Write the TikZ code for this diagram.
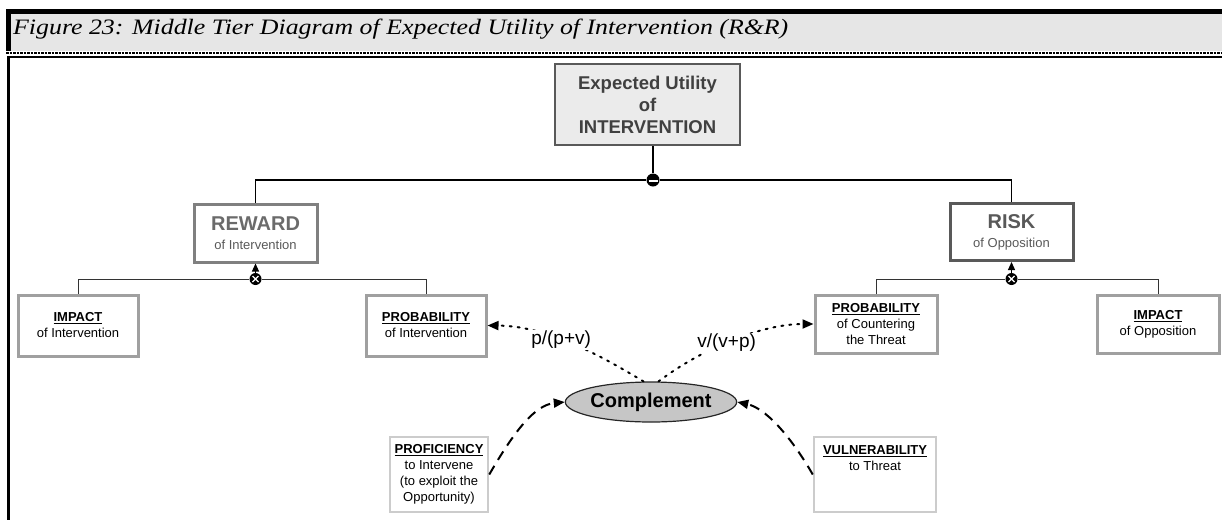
\documentclass[tikz,border=0pt]{standalone}
\usepackage{graphicx}
\usepackage{fontspec}
\setmainfont{Liberation Sans}
\newfontfamily\capfont{Liberation Serif}
\usetikzlibrary{arrows.meta,shapes.geometric}

\definecolor{bandgray}{HTML}{E6E6E6}
\definecolor{topfill}{HTML}{EBEBEB}
\definecolor{darkedge}{HTML}{595959}
\definecolor{midedge}{HTML}{808080}
\definecolor{lightedge}{HTML}{A0A0A0}
\definecolor{paleedge}{HTML}{CCCCCC}
\definecolor{toptext}{HTML}{404040}
\definecolor{rewtext}{HTML}{6B6B6B}
\definecolor{subtext}{HTML}{595959}
\definecolor{compfill}{HTML}{C6C6C6}

% text helpers
\newcommand\bxtitle[1]{{\fontsize{20}{22}\selectfont\bfseries #1}}
\newcommand\bxhead[1]{\underline{\textbf{#1}}}

\begin{document}
\begin{tikzpicture}[x=1pt,y=-1pt,
  box/.style={draw, rectangle, inner sep=0pt, align=center, fill=white,
    font=\fontsize{13}{16}\selectfont},
  factor/.style={box, draw=lightedge, line width=3pt},
  input/.style={box, draw=paleedge, line width=2.5pt},
  mainlink/.style={line width=1.8pt, black},
  sublink/.style={line width=1pt, black!80},
  junction/.style={circle, fill=black, inner sep=0pt, minimum size=13pt},
  dotarrow/.style={line width=2pt, dash pattern=on 2pt off 6pt, line cap=round,
    -{Triangle[length=11pt,width=9pt]}},
  dasharrow/.style={line width=2pt, dash pattern=on 10pt off 7pt,
    -{Triangle[length=11pt,width=9pt]}},
  ratio/.style={font=\fontsize{19}{22}\selectfont, fill=white, inner sep=1pt}
]
\useasboundingbox (0,0) rectangle (1222,520);

% ---- caption band and frame ----
\fill[bandgray] (11,14) rectangle (1222,51);
\fill[black] (6,9) rectangle (1222,14);
\fill[black] (6,9) rectangle (11,51);
\draw[line width=2pt, dash pattern=on 2.5pt off 1pt] (6,53) -- (1222,53);
\draw[line width=2pt] (8,57) -- (1222,57);
\draw[line width=3pt] (8.5,56) -- (8.5,520);
\node[anchor=base west, inner sep=0pt] (caption) at (13,34)
  {\resizebox{775pt}{\height}{\capfont\itshape\fontsize{22}{24}\selectfont
   Figure 23: Middle Tier Diagram of Expected Utility of Intervention (R\&R)}};

% ---- top node ----
\node[box, fill=topfill, draw=darkedge, line width=2.5pt,
  minimum width=185pt, minimum height=81pt, text=toptext,
  font=\fontsize{18.5}{22}\selectfont\bfseries] (eu) at (647.5,104.5)
  {Expected Utility\\of\\INTERVENTION};

% ---- second tier ----
\node[box, draw=midedge, line width=3pt, minimum width=123pt, minimum height=58pt]
  (reward) at (255.5,233)
  {\textcolor{rewtext}{\bxtitle{REWARD}}\\[3pt]\textcolor{subtext}{of Intervention}};
\node[box, draw=darkedge, line width=3pt, minimum width=123pt, minimum height=57pt]
  (risk) at (1011.5,232)
  {\textcolor{subtext}{\bxtitle{RISK}}\\[3pt]\textcolor{subtext}{of Opposition}};

% ---- third tier ----
\node[factor, minimum width=120pt, minimum height=61pt] (impi) at (78,325.5)
  {\bxhead{IMPACT}\\of Intervention};
\node[factor, minimum width=120pt, minimum height=61pt] (probi) at (426,325.5)
  {\bxhead{PROBABILITY}\\of Intervention};
\node[factor, minimum width=122pt, minimum height=58pt] (probc) at (876,324)
  {\bxhead{PROBABILITY}\\of Countering\\the Threat};
\node[factor, minimum width=122pt, minimum height=58pt] (impo) at (1158,324)
  {\bxhead{IMPACT}\\of Opposition};

% ---- inputs ----
\node[input, minimum width=98pt, minimum height=75pt] (prof) at (439,474.5)
  {\bxhead{PROFICIENCY}\\to Intervene\\(to exploit the\\Opportunity)};
\node[input, minimum width=122pt, minimum height=75pt] (vuln) at (875,474.5)
  {\bxhead{VULNERABILITY}\\to Threat\\[16pt]};

% ---- complement ----
\node[ellipse, draw=black!85, line width=1.2pt, fill=compfill, inner sep=0pt,
  minimum width=162pt, minimum height=40pt,
  font=\fontsize{20}{24}\selectfont\bfseries] (comp) at (651,402) {Complement};

% ---- tree connectors ----
\node[junction] (j0) at (653,180) {};
\draw[mainlink] (eu.south -| j0) -- (j0);
\draw[mainlink] (reward.north) |- (j0) -| (risk.north);

\node[junction, minimum size=12pt] (j1) at (255.5,279) {};
\draw[sublink] (impi.north) |- (j1) -| (probi.north);
\draw[line width=1.2pt, -{Triangle[length=8pt,width=7pt]}] (j1) -- (reward.south);

\node[junction, minimum size=12pt] (j2) at (1011.5,279) {};
\draw[sublink] (probc.north) |- (j2) -| (impo.north);
\draw[line width=1.2pt, -{Triangle[length=8pt,width=7pt]}] (j2) -- (risk.south);

% junction marks
\draw[white, line width=2pt] (648.5,181) -- (657.5,181);
\draw[white, line width=1.3pt] (252.5,276) -- (258.5,282) (252.5,282) -- (258.5,276);
\draw[white, line width=1.3pt] (1008.5,276) -- (1014.5,282) (1008.5,282) -- (1014.5,276);

% ---- ratio links ----
\draw[dotarrow] (comp.110) .. controls (595,352) and (545,326) .. (probi.east)
  node[ratio, pos=0.55] (lp) {p/(p+v)};
\draw[dotarrow] (comp.70) .. controls (700,350) and (760,324) .. (probc.west)
  node[ratio, pos=0.47] (lv) {v/(v+p)};

% ---- complement inputs ----
\draw[dasharrow] (prof.east) .. controls (515,430) and (535,405) .. (comp.west);
\draw[dasharrow] (vuln.west) .. controls (790,435) and (765,408) .. (comp.east);
\end{tikzpicture}
\end{document}
